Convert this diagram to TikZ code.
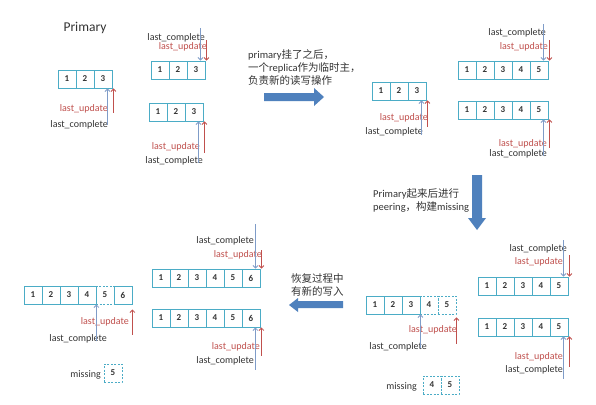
\documentclass[tikz,border=0pt]{standalone}
\usepackage{fontspec}
\setmainfont{Carlito}
\newfontfamily\cjk{Noto Sans CJK SC}
\usetikzlibrary{arrows.meta}
\definecolor{CellTeal}{HTML}{4BACC6}
\definecolor{PtrBlue}{HTML}{7F9CC8}
\definecolor{PtrRed}{HTML}{C0504D}
\definecolor{FlowBlue}{HTML}{4F81BD}
\definecolor{NoteGray}{HTML}{333333}

\begin{document}
\begin{tikzpicture}[x=1pt,y=-1pt]
    \tikzset{
      cell/.style={draw=CellTeal,line width=0.9pt,minimum width=18pt,minimum height=18pt,inner sep=0pt,
        font=\bfseries\fontsize{9}{9}\selectfont,text=NoteGray},
      cellx/.style={cell,dash pattern=on 2pt off 1.5pt},
      lc/.style={anchor=east,inner sep=0pt,font=\fontsize{10}{10}\selectfont,text=NoteGray},
      lu/.style={lc,text=PtrRed},
      cptr/.style={draw=PtrBlue,line width=0.8pt,{Straight Barb[length=2.5pt,width=5pt]}-},
      uptr/.style={cptr,draw=PtrRed},
      note/.style={anchor=west,align=left,inner sep=0pt,font=\fontsize{10.5}{13}\selectfont,text=NoteGray},
      flow/.style={fill=FlowBlue}
    }
    \useasboundingbox[fill=white] (0,0) rectangle (596,404);

    \node[font=\fontsize{13.5}{14}\selectfont,text=NoteGray] (title) at (85,28) {Primary};

    % dashed (missing) entries first, solid borders go on top
    \node[cellx] (pc-4) at (429,305) {4};
    \node[cellx] (pc-5) at (447,305) {5};
    \node[cellx] (pd-5) at (105,295) {5};
    \node[cellx] (ma-4) at (432,385) {4};
    \node[cellx] (ma-5) at (450,385) {5};
    \node[cellx] (mb-5) at (113,373) {5};

    % logs: name / left / top / entries
    \foreach \nm/\lx/\ty/\lst in {pa/58/70/{1,2,3}, ra/151/61/{1,2,3}, rb/149/103/{1,2,3},
        pb/372/82/{1,2,3}, rc/458/61/{1,...,5}, rd/458/101/{1,...,5},
        pc/366/296/{1,2,3}, re/478/277/{1,...,5}, rf/478/318/{1,...,5},
        pd/24/286/{1,2,3,4,6}, rg/152/269/{1,...,6}, rh/152/309/{1,...,6}}
      \foreach \i in \lst
        \node[cell] (\nm-\i) at (\lx+18*\i-9,\ty+9) {\i};

    % step 1
    \node[lu] (pa-lu) at (108,109) {last\_update};
    \node[lc] (pa-lc) at (108,125) {last\_complete};
    \draw[cptr] ([xshift=-5pt]pa-3.south east) -- ++(0,37);
    \draw[uptr] ([xshift=1pt]pa-3.south east) -- ++(0,25);

    \node[lc] (ra-lc) at (205,38) {last\_complete};
    \node[lu] (ra-lu) at (207,47) {last\_update};
    \draw[cptr] ([xshift=-5pt]ra-3.north east) -- ++(0,-33);
    \draw[uptr] ([xshift=1pt]ra-3.north east) -- ++(0,-21);

    \node[lu] (rb-lu) at (200,147) {last\_update};
    \node[lc] (rb-lc) at (203,161) {last\_complete};
    \draw[cptr] ([xshift=-5pt]rb-3.south east) -- ++(0,42);
    \draw[uptr] ([xshift=1pt]rb-3.south east) -- ++(0,32);

    \node[note] (n1) at (248,68) {primary{\cjk 挂了之后，}\\{\cjk 一个}replica{\cjk 作为临时主，}\\{\cjk 负责新的读写操作}};
    \fill[flow] (264,93) -- (314,93) -- (314,88) -- (324,97) -- (314,106) -- (314,101) -- (264,101) -- cycle;

    % step 2
    \node[lu] (pb-lu) at (428,118) {last\_update};
    \node[lc] (pb-lc) at (423,132) {last\_complete};
    \draw[cptr] ([xshift=-5pt]pb-3.south east) -- ++(0,35);
    \draw[uptr] ([xshift=1pt]pb-3.south east) -- ++(0,27);

    \node[lc] (rc-lc) at (546,33) {last\_complete};
    \node[lu] (rc-lu) at (548,47) {last\_update};
    \draw[cptr] ([xshift=-5pt]rc-5.north east) -- ++(0,-37);
    \draw[uptr] ([xshift=1pt]rc-5.north east) -- ++(0,-21);

    \node[lu] (rd-lu) at (547,144) {last\_update};
    \node[lc] (rd-lc) at (547,154) {last\_complete};
    \draw[cptr] ([xshift=-5pt]rd-5.south east) -- ++(0,37);
    \draw[uptr] ([xshift=1pt]rd-5.south east) -- ++(0,29);

    \node[note] (n2) at (373,200.5) {Primary{\cjk 起来后进行}\\peering{\cjk ，构建}missing};
    \fill[flow] (472,175) -- (482,175) -- (482,218) -- (486,218) -- (477,230) -- (468,218) -- (472,218) -- cycle;

    % step 3
    \node[lc] (re-lc) at (567,249) {last\_complete};
    \node[lu] (re-lu) at (563,262) {last\_update};
    \draw[cptr] ([xshift=-5pt]re-5.north east) -- ++(0,-37);
    \draw[uptr] ([xshift=1pt]re-5.north east) -- ++(0,-22);

    \node[lu] (rf-lu) at (563,357) {last\_update};
    \node[lc] (rf-lc) at (563,370) {last\_complete};
    \draw[cptr] ([xshift=-5pt]rf-5.south east) -- ++(0,43);
    \draw[uptr] ([xshift=1pt]rf-5.south east) -- ++(0,31);

    \node[lu] (pc-lu) at (457,330) {last\_update};
    \node[lc] (pc-lc) at (427,347) {last\_complete};
    \draw[cptr] (pc-3.south east) -- ++(0,34);
    \draw[uptr] ([yshift=-3pt]pc-5.south east) -- ++(0,27);
    \node[lc] (ma-lb) at (417,387) {missing};

    \node[note] (n3) at (291,285) {{\cjk 恢复过程中}\\{\cjk 有新的写入}};
    \fill[flow] (343,301) -- (298,301) -- (298,298) -- (289,305) -- (298,312) -- (298,308) -- (343,308) -- cycle;

    % step 4
    \node[lc] (rg-lc) at (254,241) {last\_complete};
    \node[lu] (rg-lu) at (262,255) {last\_update};
    \draw[cptr] ([xshift=-5pt]rg-6.north east) -- ++(0,-45);
    \draw[uptr] ([xshift=1pt]rg-6.north east) -- ++(0,-19);

    \node[lu] (rh-lu) at (260,347) {last\_update};
    \node[lc] (rh-lc) at (254,361) {last\_complete};
    \draw[cptr] ([xshift=-5pt]rh-6.south east) -- ++(0,43);
    \draw[uptr] ([xshift=1pt]rh-6.south east) -- ++(0,29);

    \node[lu] (pd-lu) at (129,322) {last\_update};
    \node[lc] (pd-lc) at (107,339) {last\_complete};
    \draw[cptr] (pd-4.south east) -- ++(0,37);
    \draw[uptr] ([yshift=-5pt]pd-6.south east) -- ++(0,26);
    \node[lc] (mb-lb) at (101,375) {missing};
\end{tikzpicture}
\end{document}
